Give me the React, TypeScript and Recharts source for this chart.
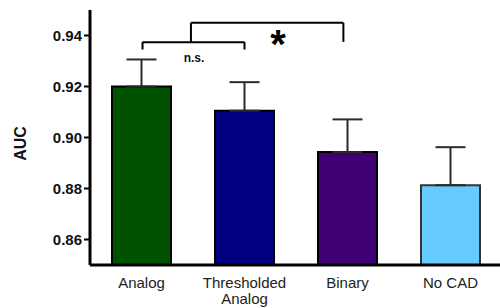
import React from 'react';
import { BarChart, Bar, XAxis, YAxis, ErrorBar, Cell, ReferenceLine, ReferenceDot } from 'recharts';

const categories = ['Analog', 'Thresholded Analog', 'Binary', 'No CAD'];
const categoryLines = [['Analog'], ['Thresholded', 'Analog'], ['Binary'], ['No CAD']];
const aucValues = [0.92, 0.9105, 0.8943, 0.8813];
const semValues = [0.0106, 0.0112, 0.0128, 0.0149];
const barColors = ['#005200', '#000080', '#3f0075', '#66ccff'];
const barStrokes = ['#000000', '#000000', '#000000', '#333333'];
const yTicks = [0.86, 0.88, 0.9, 0.92, 0.94];

const data = categories.map((c, i) => ({
  name: c,
  idx: i,
  auc: aucValues[i],
  err: [0, semValues[i]],
}));

const FONT = "'Liberation Sans', Arial, Helvetica, sans-serif";

const XTick = (props: any) => {
  const { x, y, payload } = props;
  const i = categories.indexOf(String(payload.value));
  const lines = i >= 0 ? categoryLines[i] : [String(payload.value)];
  return (
    <g>
      <text x={x} y={y} textAnchor="middle" fontFamily={FONT} fontSize={15} fill="#222">
        {lines.map((l, k) => (
          <tspan key={k} x={x} dy={k === 0 ? 15 : 16}>
            {l}
          </tspan>
        ))}
      </text>
    </g>
  );
};

const bracketStyle = { stroke: '#000', strokeWidth: 2 };

export default function App() {
  return (
    <div style={{ position: 'absolute', left: 0, top: 0, width: 500, height: 308, overflow: 'hidden', background: '#fff' }}>
      <BarChart width={504} height={308} data={data} margin={{ top: 10, right: 2, bottom: 0, left: 0 }}>
        <XAxis
          dataKey="name"
          height={43}
          axisLine={{ stroke: '#000', strokeWidth: 3 }}
          tickLine={false}
          tick={<XTick />}
          interval={0}
        />
        <XAxis xAxisId="num" type="number" dataKey="idx" domain={[-0.5, 3.5]} hide />
        <YAxis
          width={90}
          domain={[0.85, 0.95]}
          ticks={yTicks}
          allowDataOverflow
          axisLine={{ stroke: '#000', strokeWidth: 3 }}
          tickLine={{ stroke: '#000', strokeWidth: 2 }}
          tickSize={6}
          tickMargin={2}
          tickFormatter={(v: number) => v.toFixed(2)}
          tick={{ fontFamily: FONT, fontSize: 15, fontWeight: 'bold', fill: '#111' }}
          label={{
            content: (p: any) => {
              const vb = p.viewBox || { x: 0, y: 10, width: 90, height: 255 };
              const cx = vb.x + 20;
              const cy = vb.y + vb.height / 2 + 6;
              return (
                <text
                  x={cx}
                  y={cy}
                  transform={`rotate(-90 ${cx} ${cy})`}
                  textAnchor="middle"
                  dominantBaseline="central"
                  fontFamily={FONT}
                  fontSize={16}
                  fontWeight="bold"
                  fill="#111"
                >
                  AUC
                </text>
              );
            },
          }}
        />
        <Bar dataKey="auc" barSize={59} isAnimationActive={false} strokeWidth={2}>
          {data.map((d, i) => (
            <Cell key={d.name} fill={barColors[i]} stroke={barStrokes[i]} />
          ))}
          <ErrorBar dataKey="err" width={15} stroke="#2a2a2a" strokeWidth={2} direction="y" />
        </Bar>
        {/* n.s. bracket */}
        <ReferenceLine xAxisId="num" segment={[{ x: 0.01, y: 0.9345 }, { x: 0.01, y: 0.9374 }]} {...bracketStyle} />
        <ReferenceLine xAxisId="num" segment={[{ x: 0.01, y: 0.9374 }, { x: 1.0, y: 0.9374 }]} {...bracketStyle} />
        <ReferenceLine xAxisId="num" segment={[{ x: 1.0, y: 0.9374 }, { x: 1.0, y: 0.9345 }]} {...bracketStyle} />
        {/* * bracket */}
        <ReferenceLine xAxisId="num" segment={[{ x: 0.48, y: 0.9374 }, { x: 0.48, y: 0.945 }]} {...bracketStyle} />
        <ReferenceLine xAxisId="num" segment={[{ x: 0.48, y: 0.945 }, { x: 1.96, y: 0.945 }]} {...bracketStyle} />
        <ReferenceLine xAxisId="num" segment={[{ x: 1.96, y: 0.945 }, { x: 1.96, y: 0.9375 }]} {...bracketStyle} />
        <ReferenceDot
          xAxisId="num"
          x={0.51}
          y={0.9295}
          r={0}
          shape={(p: any) => (
            <text x={p.cx} y={p.cy} textAnchor="middle" fontFamily={FONT} fontSize={12} fontWeight="bold" fill="#111">
              n.s.
            </text>
          )}
        />
        <ReferenceDot
          xAxisId="num"
          x={1.325}
          y={0.931}
          r={0}
          shape={(p: any) => (
            <text x={p.cx} y={p.cy} textAnchor="middle" fontFamily={FONT} fontSize={40} fontWeight="bold" fill="#000">
              *
            </text>
          )}
        />
      </BarChart>
    </div>
  );
}
